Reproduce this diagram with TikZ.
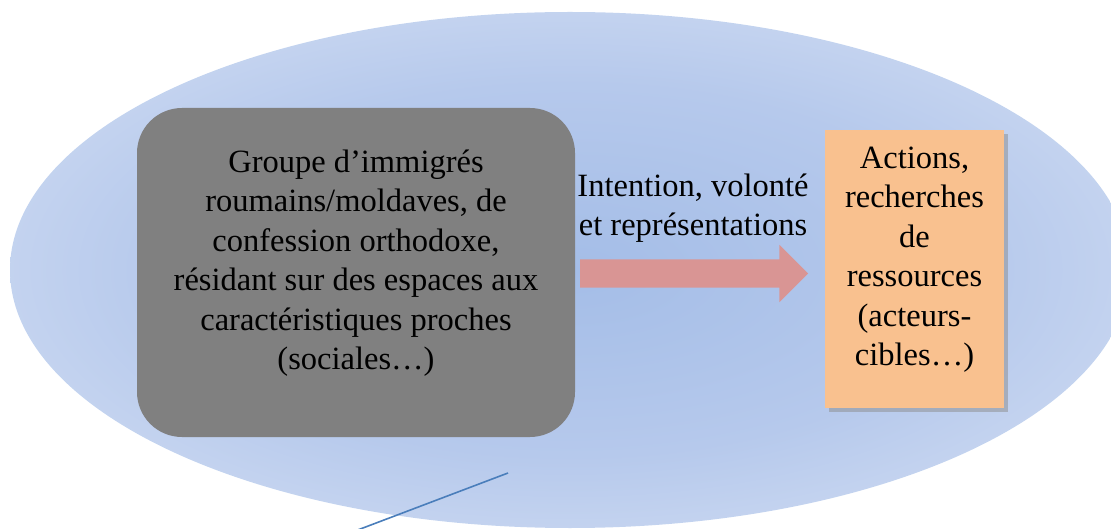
\documentclass[tikz,border=0pt]{standalone}
\usepackage{fontspec}
\setmainfont{Liberation Serif}
\usetikzlibrary{positioning, arrows.meta, shapes.arrows, shadows}

\definecolor{haloin}{HTML}{A4BDE7}
\definecolor{halomid}{HTML}{B6C9EC}
\definecolor{haloout}{HTML}{D8E2F4}
\definecolor{groupgray}{HTML}{808080}
\definecolor{actionorange}{HTML}{F9C18F}
\definecolor{intentpink}{HTML}{D99594}
\definecolor{pointerblue}{HTML}{4A7EBB}
\pgfdeclareradialshading{halo}{\pgfpoint{0bp}{0bp}}{color(0bp)=(haloin); color(18bp)=(halomid); color(36bp)=(haloout); color(50bp)=(haloout)}

\begin{document}
\begin{tikzpicture}[
    x=1pt, y=-1pt,
    txt/.style={font=\fontsize{32.5}{39.5}\selectfont, align=center, text=black},
    groupbox/.style={txt, rectangle, rounded corners=45pt, fill=groupgray,
        minimum width=438pt, minimum height=329pt, inner sep=0pt, text depth=26pt},
    actionbox/.style={txt, rectangle, fill=actionorange,
        minimum width=179pt, minimum height=278pt, inner sep=0pt, text depth=26pt,
        drop shadow={shadow xshift=4pt, shadow yshift=-4pt, fill=black!45, opacity=0.5}},
    bigarrow/.style={single arrow, fill=intentpink, inner sep=0pt,
        text height=14pt, text depth=14pt,
        minimum width=57pt, minimum height=228pt,
        single arrow head extend=14.5pt, single arrow head indent=0pt},
    pointer/.style={draw=pointerblue, line width=1.6pt}
]
\useasboundingbox (0,0) rectangle (1111,529);
\clip (0,0) rectangle (1111,529);

% background halo
\shade[shading=halo] (570,270) ellipse [x radius=560, y radius=258];

\node[groupbox] (group) at (356,272.5) {Groupe d’immigrés\\roumains/moldaves, de\\confession orthodoxe,\\résidant sur des espaces aux\\caractéristiques proches\\(sociales…)};
\node[actionbox] (actions) at (914.5,269) {Actions,\\recherches\\de\\ressources\\(acteurs-\\cibles…)};

\node[bigarrow] (intent) at (687,273.5) {};
\node[txt, above=13pt of intent.north, xshift=6pt] (intentlabel) {Intention, volonté\\et représentations};

\coordinate (ptrA) at (508,473);
\coordinate (ptrB) at (355,531);
\draw[pointer] (ptrA) -- (ptrB);
\end{tikzpicture}
\end{document}
